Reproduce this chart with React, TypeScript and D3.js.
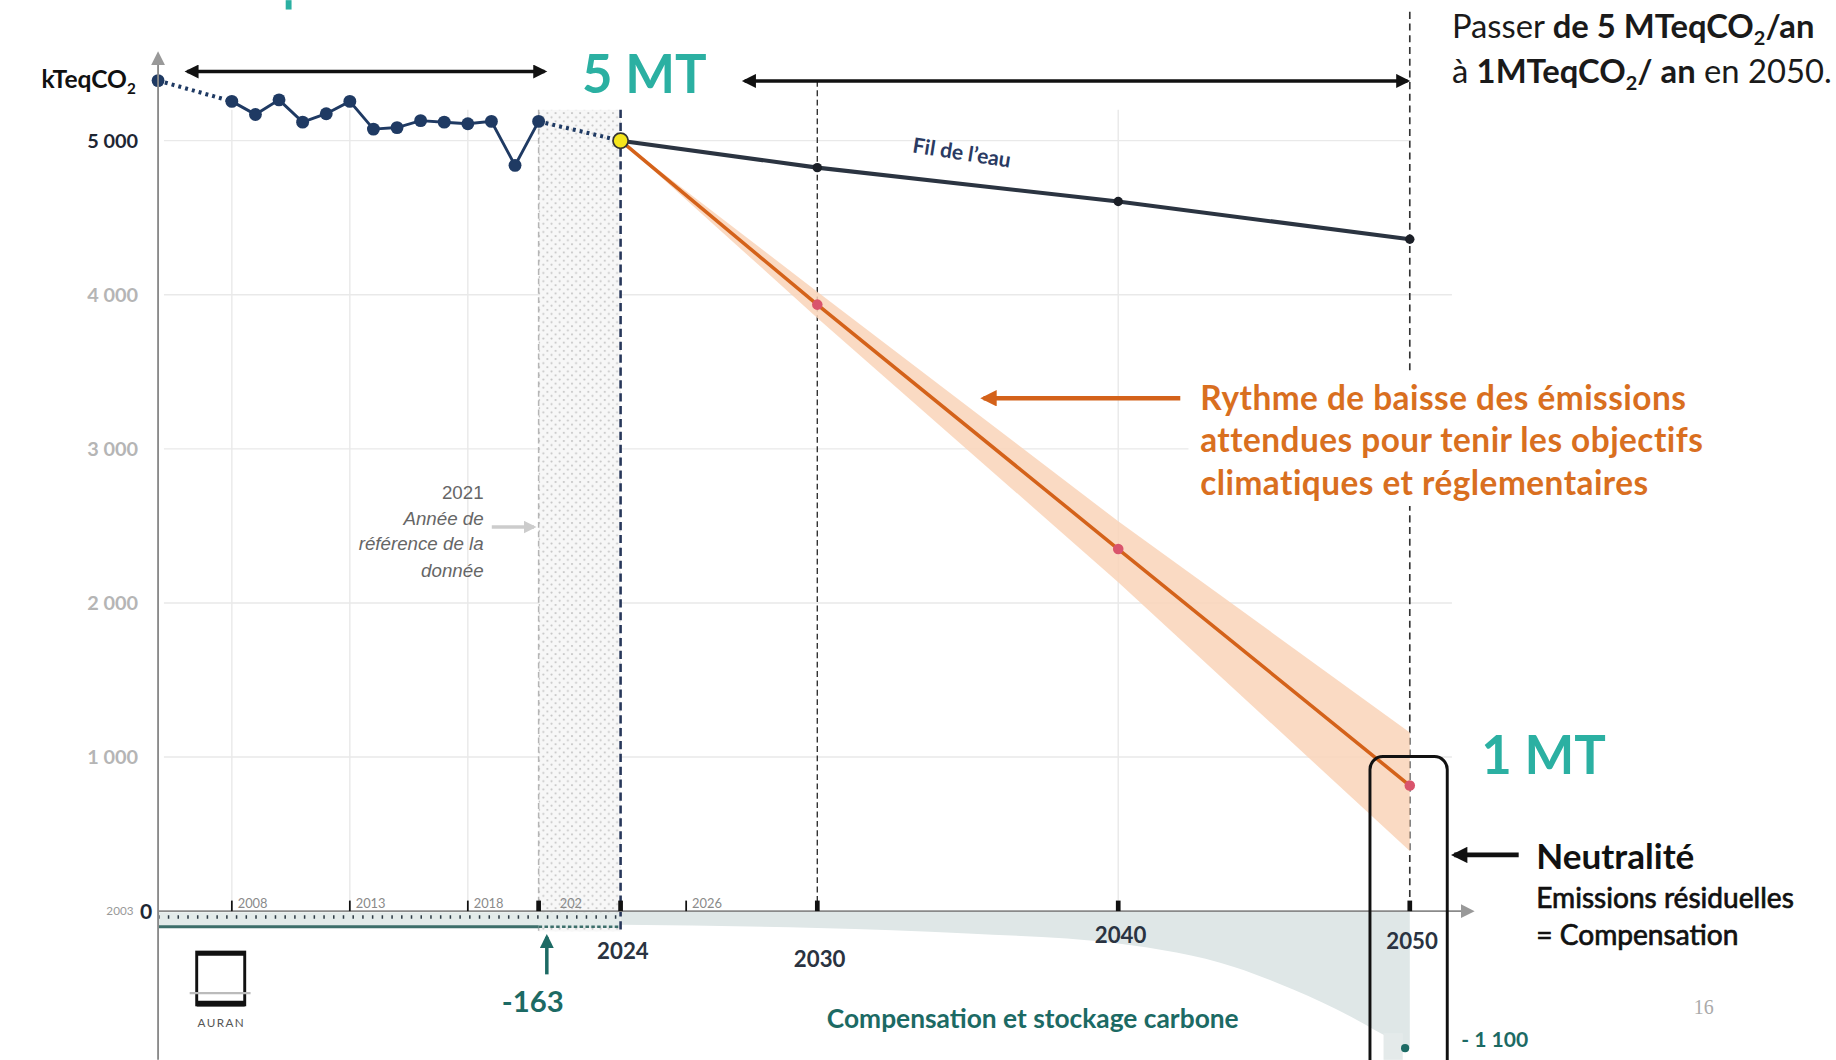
import React from 'react';
import * as d3 from 'd3';

// ---------- DATA ----------
const histYears = [2003, 2008, 2009, 2010, 2011, 2012, 2013, 2014, 2015, 2016, 2017, 2018, 2019, 2020, 2021];
const histValues = [5390, 5255, 5170, 5265, 5120, 5175, 5255, 5075, 5085, 5130, 5120, 5110, 5125, 4840, 5125];
const refYear = 2024;
const refValue = 5000;
const projYears = [2024, 2030, 2040, 2050];
const trendValues = [5000, 4825, 4605, 4360];
const targetValues = [5000, 3936, 2350, 815];
const bandLow = [5000, 3850, 2135, 390];
const bandHigh = [5000, 4020, 2530, 1160];
const compYears = [2024, 2030, 2035, 2040, 2044, 2046, 2048, 2049, 2050];
const compValues = [-110, -135, -180, -260, -450, -630, -850, -980, -1100];
const histComp = -163;
const histCompStart = 2003;
const refDataYear = 2021;
const finalComp = -1100;
const yTicks = [0, 1000, 2000, 3000, 4000, 5000];
const yTickLabels = ['0', '1 000', '2 000', '3 000', '4 000', '5 000'];
const gridYears = [2008, 2013, 2018, 2040];
const minorTickYears = [2008, 2013, 2018, 2026];
const minorTickLabels = ['2008', '2013', '2018', '2026'];
const majorTickYears = [2021, 2024, 2030, 2040, 2050];
const majorLabelYears = [2024, 2030, 2040, 2050];
const majorLabels = ['2024', '2030', '2040', '2050'];

// ---------- LAYOUT ----------
const VW = 1568;
const VH = 905;
const FONT = "Lato, 'Open Sans', sans-serif";

const x = d3
  .scaleLinear()
  .domain([2003, 2008, 2021, 2024, 2030, 2040, 2050])
  .range([135, 198, 460, 530, 698, 955, 1204]);
const y = d3.scaleLinear().domain([-1100, 0, 5000]).range([895, 778, 120]);

const NAVY = '#1f3a63';
const TEAL = '#2bb0a2';
const DTEAL = '#1c6a64';
const ORANGE = '#d4621a';
const ORANGE_T = '#d96f1f';

export default function App() {
  const hist = histYears.map((yr, i) => ({ yr, v: histValues[i] }));
  const solid = hist.slice(1);
  const proj = projYears.map((yr, i) => ({
    yr,
    t: trendValues[i],
    g: targetValues[i],
    lo: bandLow[i],
    hi: bandHigh[i],
  }));
  const comp = compYears.map((yr, i) => ({ yr, v: compValues[i] }));

  const line = d3
    .line<{ yr: number; v: number }>()
    .x((d) => x(d.yr))
    .y((d) => y(d.v));
  const band = d3
    .area<any>()
    .x((d) => x(d.yr))
    .y0((d) => y(d.lo))
    .y1((d) => y(d.hi));
  const compArea = d3
    .area<{ yr: number; v: number }>()
    .x((d) => x(d.yr))
    .y0(y(0))
    .y1((d) => y(d.v))
    .curve(d3.curveMonotoneX);

  const y0 = y(0);
  const yc = y(histComp);
  const topGrid = y(5200);
  const filAngle =
    (Math.atan2(y(trendValues[2]) - y(trendValues[1]), x(2040) - x(2030)) * 180) / Math.PI + 2.5;
  const filX = (x(2030) + x(2040)) / 2 - 6;
  const filY = (y(trendValues[1]) + y(trendValues[2])) / 2 - 21;

  return (
    <svg
      width={1836}
      height={1060}
      viewBox={`0 0 ${VW} ${VH}`}
      style={{ position: 'absolute', left: 0, top: 0, background: '#fff' }}
      fontFamily={FONT}
    >
      <defs>
        <marker id="aBlack" viewBox="0 0 10 10" refX="8" refY="5" markerWidth="13" markerHeight="12"
          markerUnits="userSpaceOnUse" orient="auto-start-reverse">
          <path d="M0,0 L10,5 L0,10 z" fill="#111" />
        </marker>
        <marker id="aBlack2" viewBox="0 0 10 10" refX="8" refY="5" markerWidth="16" markerHeight="14"
          markerUnits="userSpaceOnUse" orient="auto-start-reverse">
          <path d="M0,0 L10,5 L0,10 z" fill="#111" />
        </marker>
        <marker id="aOrange" viewBox="0 0 10 10" refX="8" refY="5" markerWidth="16" markerHeight="14"
          markerUnits="userSpaceOnUse" orient="auto">
          <path d="M0,0 L10,5 L0,10 z" fill={ORANGE} />
        </marker>
        <marker id="aGray" viewBox="0 0 10 10" refX="8" refY="5" markerWidth="12" markerHeight="12"
          markerUnits="userSpaceOnUse" orient="auto">
          <path d="M0,0 L10,5 L0,10 z" fill="#999" />
        </marker>
        <marker id="aLight" viewBox="0 0 10 10" refX="8" refY="5" markerWidth="11" markerHeight="11"
          markerUnits="userSpaceOnUse" orient="auto">
          <path d="M0,0 L10,5 L0,10 z" fill="#ccc" />
        </marker>
        <marker id="aTeal" viewBox="0 0 10 10" refX="8" refY="5" markerWidth="12" markerHeight="12"
          markerUnits="userSpaceOnUse" orient="auto">
          <path d="M0,0 L10,5 L0,10 z" fill={DTEAL} />
        </marker>
        <pattern id="dots" width="7" height="7" patternUnits="userSpaceOnUse">
          <rect width="7" height="7" fill="#f7f7f7" />
          <circle cx="2" cy="2" r="0.9" fill="#c4c4c4" />
          <circle cx="5.5" cy="5.5" r="0.9" fill="#c4c4c4" />
        </pattern>
      </defs>

      <rect x={0} y={0} width={VW} height={VH} fill="#fff" />

      {/* grid */}
      {yTicks.slice(1).map((t) => (
        <line key={'gy' + t} x1={140} x2={t === 5000 ? 1205 : 1240} y1={y(t)} y2={y(t)} stroke="#e9e9e9" strokeWidth={1.2} />
      ))}
      {gridYears.map((g) => (
        <line key={'gx' + g} x1={x(g)} x2={x(g)} y1={topGrid} y2={y0} stroke="#e9e9e9" strokeWidth={1.2} />
      ))}

      {/* compensation area */}
      <path d={compArea(comp) || ''} fill="#dfe7e7" />
      <rect x={x(2049.1)} y={y(-980)} width={x(2050) - x(2049.1) - 6} height={VH - y(-980)} fill="#e4eaea" />

      {/* dotted reference period */}
      <rect x={x(refDataYear)} y={topGrid} width={x(refYear) - x(refDataYear)} height={yc - topGrid} fill="url(#dots)" />
      <line x1={x(refDataYear)} x2={x(refDataYear)} y1={topGrid} y2={yc} stroke="#b5b5b5" strokeWidth={1.3} strokeDasharray="5,3" />

      {/* historical compensation bar */}
      <rect x={x(histCompStart)} y={y0 + 1} width={x(refYear) - x(histCompStart)} height={yc - y0 - 4} fill="#e3ebea" />
      <line x1={x(histCompStart)} x2={x(refYear)} y1={y0 + 5} y2={y0 + 5}
        stroke="#2d3b45" strokeWidth={3} strokeDasharray="1.3,7" />
      <line x1={x(histCompStart)} x2={x(refDataYear)} y1={yc - 4} y2={yc - 4} stroke="#3d6f6b" strokeWidth={2.5} />
      <line x1={x(refDataYear)} x2={x(refYear)} y1={yc - 4} y2={yc - 4} stroke="#3d6f6b" strokeWidth={2} strokeDasharray="3,2" />

      {/* vertical dashed lines */}
      <line x1={x(2024)} x2={x(2024)} y1={topGrid} y2={yc} stroke="#27375a" strokeWidth={2.2} strokeDasharray="7,4" />
      <line x1={x(2030)} x2={x(2030)} y1={69} y2={y0} stroke="#333" strokeWidth={1.2} strokeDasharray="5,3" />
      <line x1={x(2050)} x2={x(2050)} y1={10} y2={y0} stroke="#333" strokeWidth={1.4} strokeDasharray="6,4" />

      {/* band + target line */}
      <path d={band(proj) || ''} fill="#f9d4b8" opacity={0.85} />
      <path d={line(proj.map((d) => ({ yr: d.yr, v: d.g }))) || ''} fill="none" stroke={ORANGE} strokeWidth={3} />
      {proj.slice(1).map((d) => (
        <circle key={'pg' + d.yr} cx={x(d.yr)} cy={y(d.g)} r={4.5} fill="#d9546c" />
      ))}

      {/* trend line (fil de l'eau) */}
      <path d={line(proj.map((d) => ({ yr: d.yr, v: d.t }))) || ''} fill="none" stroke="#2b3441" strokeWidth={3.5} />
      {proj.slice(1).map((d) => (
        <circle key={'pt' + d.yr} cx={x(d.yr)} cy={y(d.t)} r={4} fill="#1b1f27" />
      ))}
      <text x={filX} y={filY} transform={`rotate(${filAngle} ${filX} ${filY})`} textAnchor="middle"
        fontSize={18} fontWeight={700} fill="#2a3a62">Fil de l’eau</text>

      {/* historical series */}
      <path d={line([hist[0], hist[1]]) || ''} fill="none" stroke={NAVY} strokeWidth={3.5} strokeDasharray="2.5,3.5" />
      <path d={line([hist[hist.length - 1], { yr: refYear, v: refValue }]) || ''} fill="none" stroke={NAVY} strokeWidth={3.5} strokeDasharray="2.5,3.5" />
      <path d={line(solid) || ''} fill="none" stroke={NAVY} strokeWidth={2.5} />
      {hist.map((d) => (
        <circle key={'h' + d.yr} cx={x(d.yr)} cy={y(d.v)} r={5.5} fill={NAVY} />
      ))}
      <circle cx={x(refYear)} cy={y(refValue)} r={6.5} fill="#f5e51c" stroke="#333" strokeWidth={1.5} />

      {/* axes */}
      <line x1={135} x2={135} y1={VH} y2={46} stroke="#8a8a8a" strokeWidth={1.6} markerEnd="url(#aGray)" />
      <line x1={135} x2={1257} y1={y0} y2={y0} stroke="#8a8a8a" strokeWidth={1.6} markerEnd="url(#aGray)" />

      {/* x ticks */}
      {minorTickYears.map((t, i) => (
        <g key={'mt' + t}>
          <line x1={x(t)} x2={x(t)} y1={y0 - 9} y2={y0} stroke="#111" strokeWidth={1.5} />
          <text x={x(t) + 5} y={y0 - 3} fontSize={11} fill="#8a8a8a">{minorTickLabels[i]}</text>
        </g>
      ))}
      <text x={x(2021) + 18} y={y0 - 3} fontSize={11} fill="#8a8a8a">202</text>
      {majorTickYears.map((t) => (
        <rect key={'Mt' + t} x={x(t) - 2} y={y0 - 9} width={4} height={9} fill="#111" />
      ))}
      {majorLabelYears.map((t, i) => (
        <text key={'ml' + t} x={x(t) + 2} y={[819, 826, 805, 810][i]} textAnchor="middle" fontSize={19}
          fontWeight={700} fill="#2a3341">{majorLabels[i]}</text>
      ))}

      {/* y ticks */}
      {yTicks.map((t, i) => (
        <text key={'yt' + t} x={t === 0 ? 130 : 118} y={y(t)} dy="0.35em" textAnchor="end"
          fontSize={t === 0 ? 18 : 17} fontWeight={700} fill={t === 0 || t === 5000 ? '#1e2633' : '#b5b5b5'}>
          {yTickLabels[i]}
        </text>
      ))}
      <text x={114} y={y0} dy="0.35em" textAnchor="end" fontSize={10} fill="#999">2003</text>
      <text x={116} y={68} dy="0.35em" textAnchor="end" fontSize={21} fontWeight={700} fill="#111">
        kTeqCO<tspan fontSize={13} dy="5">2</tspan>
      </text>

      {/* double arrows */}
      <line x1={160} x2={465} y1={61} y2={61} stroke="#111" strokeWidth={3} markerStart="url(#aBlack)" markerEnd="url(#aBlack)" />
      <line x1={636} x2={x(2050) - 2} y1={69} y2={69} stroke="#111" strokeWidth={3} markerStart="url(#aBlack)" markerEnd="url(#aBlack)" />

      {/* big labels */}
      <text x={497} y={79} fontSize={45} fontWeight={700} fill={TEAL}>5 MT</text>
      <text x={1265} y={661} fontSize={45} fontWeight={700} fill={TEAL}>1 MT</text>
      <rect x={244} y={0} width={5} height={8} fill={TEAL} />

      {/* top right note */}
      <text x={1240} y={32} fontSize={28} fill="#1a1a1a">
        Passer <tspan fontWeight={700}>de 5 MTeqCO</tspan><tspan fontWeight={700} fontSize={17} dy="6">2</tspan>
        <tspan fontWeight={700} dy="-6">/an</tspan>
      </text>
      <text x={1240} y={71} fontSize={28} fill="#1a1a1a">
        à <tspan fontWeight={700}>1MTeqCO</tspan><tspan fontWeight={700} fontSize={17} dy="6">2</tspan>
        <tspan fontWeight={700} dy="-6">/ an</tspan> en 2050.
      </text>

      {/* orange annotation */}
      <rect x={1015} y={318} width={470} height={114} fill="#fff" />
      <line x1={1008} x2={840} y1={340} y2={340} stroke={ORANGE} strokeWidth={4} markerEnd="url(#aOrange)" />
      <g fontSize={28.5} fontWeight={700} fill={ORANGE_T} letterSpacing={0.4}>
        <text x={1025} y={350}>Rythme de baisse des émissions</text>
        <text x={1025} y={386}>attendues pour tenir les objectifs</text>
        <text x={1025} y={423}>climatiques et réglementaires</text>
      </g>

      {/* reference year note */}
      <g fontFamily="'Liberation Sans', Arial, sans-serif" fontSize={16} fill="#666" textAnchor="end">
        <text x={413} y={426}>2021</text>
        <text x={413} y={448} fontStyle="italic">Année de</text>
        <text x={413} y={470} fontStyle="italic">référence de la</text>
        <text x={413} y={493} fontStyle="italic">donnée</text>
      </g>
      <line x1={420} x2={456} y1={450} y2={450} stroke="#ccc" strokeWidth={3} markerEnd="url(#aLight)" />

      {/* -163 arrow */}
      <line x1={x(refDataYear) + 7} x2={x(refDataYear) + 7} y1={832} y2={800} stroke={DTEAL} strokeWidth={3} markerEnd="url(#aTeal)" />
      <text x={455} y={864} textAnchor="middle" fontSize={25} fontWeight={700} fill={DTEAL}>
        {String(histComp)}
      </text>

      {/* compensation label */}
      <text x={882} y={878} textAnchor="middle" fontSize={22.5} fontWeight={700} fill={DTEAL}>
        Compensation et stockage carbone
      </text>
      <circle cx={x(2050) - 4} cy={y(finalComp)} r={3.5} fill={DTEAL} />
      <text x={1248} y={894} fontSize={18} fontWeight={700} fill={DTEAL}>- 1 100</text>

      {/* neutrality box */}
      <rect x={1170} y={646} width={66} height={290} rx={11} fill="none" stroke="#111" strokeWidth={2.5} />
      <line x1={1297} x2={1242} y1={730} y2={730} stroke="#111" strokeWidth={4} markerEnd="url(#aBlack2)" />
      <text x={1312} y={742} fontSize={30} fontWeight={700} fill="#111">Neutralité</text>
      <g fontSize={24} fill="#111" stroke="#111" strokeWidth={0.6}>
        <text x={1312} y={775}>Emissions résiduelles</text>
        <text x={1312} y={807}>= Compensation</text>
      </g>

      <text x={1455} y={866} textAnchor="middle" fontSize={17} fill="#aaa" fontFamily="'Liberation Serif', serif">16</text>

      {/* AURAN logo */}
      <g>
        <rect x={168} y={813} width={41} height={45} fill="none" stroke="#111" strokeWidth={2.5} />
        <line x1={168} x2={209} y1={814} y2={814} stroke="#111" strokeWidth={4} />
        <line x1={168} x2={209} y1={857} y2={857} stroke="#111" strokeWidth={5} />
        <line x1={162} x2={214} y1={848} y2={848} stroke="#bbb" strokeWidth={2} />
        <text x={189} y={877} textAnchor="middle" fontSize={10} letterSpacing={1.2} fill="#555">AURAN</text>
      </g>
    </svg>
  );
}
